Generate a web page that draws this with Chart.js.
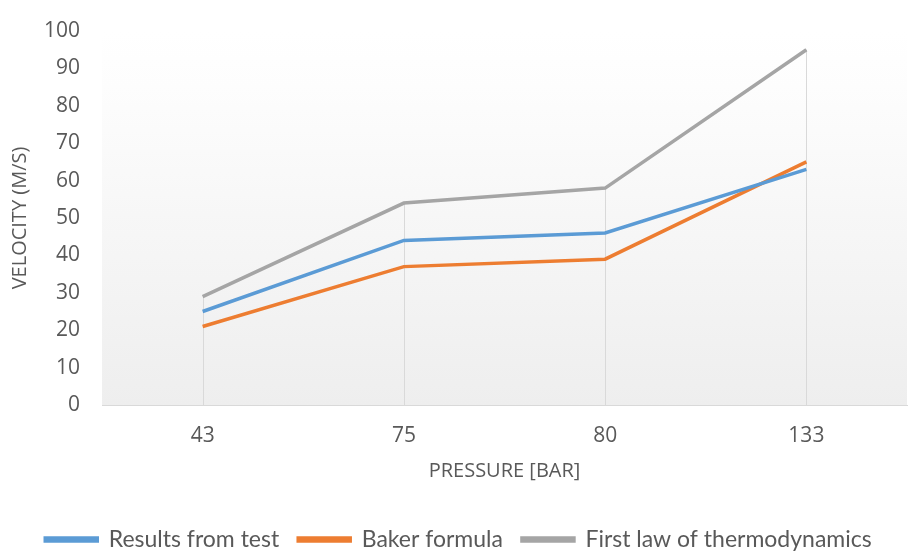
<!DOCTYPE html>
<html>
<head>
<meta charset="utf-8">
<script src="https://cdn.jsdelivr.net/npm/chart.js@4"></script>
<style>
  html, body { margin: 0; padding: 0; background: #fff; }
  #wrap { width: 924px; height: 553px; }
</style>
</head>
<body>
<div id="wrap"><canvas id="chart1"></canvas></div>
<script>
// Velocity vs pressure
const pressureLabels = ['43', '75', '80', '133'];
const resultsFromTest = [25, 44, 46, 63];
const bakerFormula = [21, 37, 39, 65];
const firstLaw = [29, 54, 58, 95];

// plot area gradient (white at top, light grey at bottom)
const plotBg = {
    id: 'plotBg',
    beforeDraw(chart) {
        const { ctx, chartArea: a } = chart;
        if (!a) return;
        const g = ctx.createLinearGradient(0, a.top, 0, a.bottom);
        g.addColorStop(0, '#ffffff');
        g.addColorStop(0.15, '#fdfdfd');
        g.addColorStop(1, '#eeeeee');
        ctx.save();
        ctx.fillStyle = g;
        ctx.fillRect(a.left, a.top, a.right - a.left, a.bottom - a.top);
        ctx.restore();
    }
};

// drop lines from the highest point at each category down to the axis
const dropLines = {
    id: 'dropLines',
    beforeDatasetsDraw(chart) {
        const { ctx, chartArea: a, scales } = chart;
        ctx.save();
        ctx.strokeStyle = '#d9d9d9';
        ctx.lineWidth = 1;
        pressureLabels.forEach((lab, i) => {
            const top = Math.max(...chart.data.datasets.map(d => d.data[i]));
            const x = Math.round(scales.x.getPixelForValue(i)) + 0.5;
            ctx.beginPath();
            ctx.moveTo(x, scales.y.getPixelForValue(top));
            ctx.lineTo(x, a.bottom);
            ctx.stroke();
        });
        ctx.restore();
    }
};

const tickFont = { family: 'Open Sans', size: 21, lineHeight: 1 };
const titleFont = { family: 'Open Sans', size: 20, lineHeight: 1 };

const ctx1 = document.getElementById('chart1').getContext('2d');
const chart1 = new Chart(ctx1, {
    type: 'line',
    data: {
        labels: pressureLabels,
        datasets: [{
            label: 'Results from test',
            data: resultsFromTest,
            borderColor: '#5b9bd5',
            backgroundColor: '#5b9bd5',
            borderWidth: 3.5,
            pointRadius: 0
        }, {
            label: 'Baker formula',
            data: bakerFormula,
            borderColor: '#ed7d31',
            backgroundColor: '#ed7d31',
            borderWidth: 3.5,
            pointRadius: 0
        }, {
            label: 'First law of thermodynamics',
            data: firstLaw,
            borderColor: '#a5a5a5',
            backgroundColor: '#a5a5a5',
            borderWidth: 3.5,
            pointRadius: 0
        }]
    },
    options: {
        responsive: true,
        maintainAspectRatio: false,
        animation: false,
        layout: { padding: { top: 31, right: 17, left: 10, bottom: -8 } },
        plugins: {
            legend: {
                position: 'bottom',
                labels: {
                    boxWidth: 52,
                    boxHeight: 3,
                    padding: 19,
                    color: '#595959',
                    font: { family: 'Lato', size: 23 }
                }
            },
            tooltip: { enabled: false }
        },
        scales: {
            x: {
                offset: true,
                grid: { display: false },
                border: { display: true, color: '#d9d9d9' },
                ticks: { color: '#595959', font: tickFont, padding: 13 },
                title: {
                    display: true,
                    text: 'PRESSURE [BAR]',
                    color: '#595959',
                    font: titleFont,
                    padding: { top: 1, bottom: 28 }
                }
            },
            y: {
                min: 0,
                max: 100,
                ticks: { stepSize: 10, color: '#595959', font: tickFont, padding: 14 },
                grid: { display: false },
                border: { display: false },
                title: {
                    display: true,
                    text: 'VELOCITY (M/S)',
                    color: '#595959',
                    font: titleFont,
                    padding: { top: 0, bottom: 0 }
                }
            }
        }
    },
    plugins: [plotBg, dropLines]
});
</script>
</body>
</html>
